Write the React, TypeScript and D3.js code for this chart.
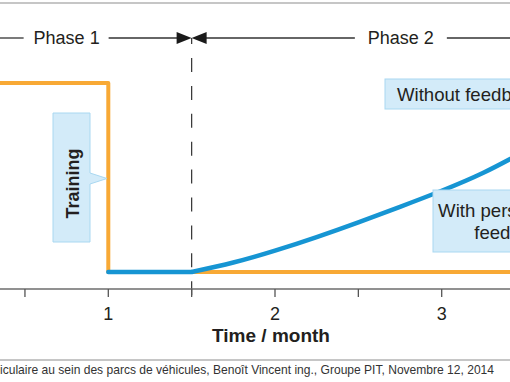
import React from "react";
import * as d3 from "d3";

// ---- data ----
const xTicks = [0.5, 1, 1.5, 2, 2.5, 3, 3.5];
const xTickLabels = ["", "1", "", "2", "", "3", ""];
const trainingMonths = [0.2, 1, 1, 3.6];
const trainingLevel = [1, 1, 0, 0];
const flatMonths = [1, 1.5];
const flatLevel = [0, 0];
const feedbackMonths = [1.5, 1.75, 2.0, 2.25, 2.5, 2.75, 3.0, 3.25, 3.5];
const feedbackLevel = [0, 0.05, 0.113, 0.185, 0.263, 0.345, 0.43, 0.525, 0.64];
const phaseBoundary = 1.5;
const phaseLabels = ["Phase 1", "Phase 2"];
const phaseCenters = [0.75, 2.755];
const xTitle = "Time / month";
const caption =
  "Conduite véhiculaire au sein des parcs de véhicules, Benoît Vincent ing., Groupe PIT, Novembre 12, 2014";

const W = 510;
const H = 382;
const FONT = "'Liberation Sans', Arial, Helvetica, sans-serif";
const TXT = "#231f20";
const ORANGE = "#f8a935";
const BLUE = "#1695d3";
const BOX_FILL = "#d3ebf9";
const BOX_STROKE = "#a9d8f1";

export default function App() {
  const x = d3.scaleLinear().domain([1, 2]).range([108.3, 275]);
  const y = d3.scaleLinear().domain([0, 1]).range([272, 83]);
  const axisY = 289;
  const phaseY = 38;

  const lin = d3
    .line<[number, number]>()
    .x((d) => x(d[0]))
    .y((d) => y(d[1]));
  const curve = d3
    .line<[number, number]>()
    .x((d) => x(d[0]))
    .y((d) => y(d[1]))
    .curve(d3.curveNatural);

  const orangeData = trainingMonths.map((m, i) => [m, trainingLevel[i]] as [number, number]);
  const flatData = flatMonths.map((m, i) => [m, flatLevel[i]] as [number, number]);
  const blueData = feedbackMonths.map((m, i) => [m, feedbackLevel[i]] as [number, number]);

  const xb = x(phaseBoundary);
  const p1 = x(phaseCenters[0]);
  const p2 = x(phaseCenters[1]);

  return (
    <svg
      width={W}
      height={H}
      style={{ position: "absolute", left: 0, top: 0, background: "#fff" }}
      fontFamily={FONT}
    >
      {/* top border */}
      <line x1={0} x2={W} y1={3} y2={3} stroke="#b3b3b3" strokeWidth={1.5} />

      {/* phase lines */}
      <g stroke="#333" strokeWidth={1.3}>
        <line x1={0} x2={p1 - 43} y1={phaseY} y2={phaseY} />
        <line x1={p1 + 42} x2={xb - 14} y1={phaseY} y2={phaseY} />
        <line x1={xb + 14} x2={p2 - 46} y1={phaseY} y2={phaseY} />
        <line x1={p2 + 46} x2={W} y1={phaseY} y2={phaseY} />
      </g>
      <path
        d={`M${xb - 15},${phaseY - 6}L${xb},${phaseY}L${xb - 15},${phaseY + 6}Z`}
        fill="#1a1a1a"
      />
      <path
        d={`M${xb + 15},${phaseY - 6}L${xb},${phaseY}L${xb + 15},${phaseY + 6}Z`}
        fill="#1a1a1a"
      />
      <line x1={xb} x2={xb} y1={phaseY} y2={44} stroke="#333" strokeWidth={1.2} />
      <text x={p1} y={phaseY + 6} textAnchor="middle" fontSize={18} fill={TXT}>
        {phaseLabels[0]}
      </text>
      <text x={p2} y={phaseY + 6} textAnchor="middle" fontSize={18} fill={TXT}>
        {phaseLabels[1]}
      </text>

      {/* dashed boundary */}
      <line
        x1={xb}
        x2={xb}
        y1={58}
        y2={297}
        stroke="#333"
        strokeWidth={1.2}
        strokeDasharray="14,13.9"
      />

      {/* axis */}
      <line x1={0} x2={W} y1={axisY} y2={axisY} stroke="#6d6d6d" strokeWidth={1.6} />
      {xTicks.map((t, i) => (
        <g key={i}>
          <line x1={x(t)} x2={x(t)} y1={axisY} y2={axisY + 8} stroke="#555" strokeWidth={1.3} />
          {xTickLabels[i] && (
            <text x={x(t)} y={320} textAnchor="middle" fontSize={18} fill={TXT}>
              {xTickLabels[i]}
            </text>
          )}
        </g>
      ))}
      <text x={271} y={342} textAnchor="middle" fontSize={19} fontWeight="bold" fill={TXT}>
        {xTitle}
      </text>

      {/* bottom border + caption */}
      <line x1={0} x2={W} y1={360} y2={360} stroke="#b3b3b3" strokeWidth={1.5} />
      <text x={494} y={374} textAnchor="end" fontSize={12.05} fill="#333">
        {caption}
      </text>

      {/* series */}
      <path d={lin(orangeData) || ""} fill="none" stroke={ORANGE} strokeWidth={4} strokeLinejoin="round" />
      <path d={lin(flatData) || ""} fill="none" stroke={BLUE} strokeWidth={4.5} strokeLinecap="round" />
      <path d={curve(blueData) || ""} fill="none" stroke={BLUE} strokeWidth={4.5} />

      {/* Training callout */}
      <path
        d="M53,113H90V173L107,178.5L90,184V242H53Z"
        fill={BOX_FILL}
        stroke={BOX_STROKE}
        strokeWidth={1}
      />
      <text
        transform="translate(79,183.5) rotate(-90)"
        textAnchor="middle"
        fontSize={18}
        fontWeight="bold"
        fill={TXT}
      >
        Training
      </text>

      {/* Without feedback */}
      <rect x={385} y={79} width={150} height={30} fill={BOX_FILL} stroke={BOX_STROKE} strokeWidth={1} />
      <text x={397} y={101} fontSize={18.6} fill={TXT}>
        Without feedback
      </text>

      {/* With personalized feedback */}
      <rect x={433} y={190} width={110} height={62} fill={BOX_FILL} stroke={BOX_STROKE} strokeWidth={1} />
      <text x={512} y={217} textAnchor="middle" fontSize={18.6} fill={TXT}>
        With personalized
      </text>
      <text x={512} y={239} textAnchor="middle" fontSize={18.6} fill={TXT}>
        feedback
      </text>
    </svg>
  );
}
